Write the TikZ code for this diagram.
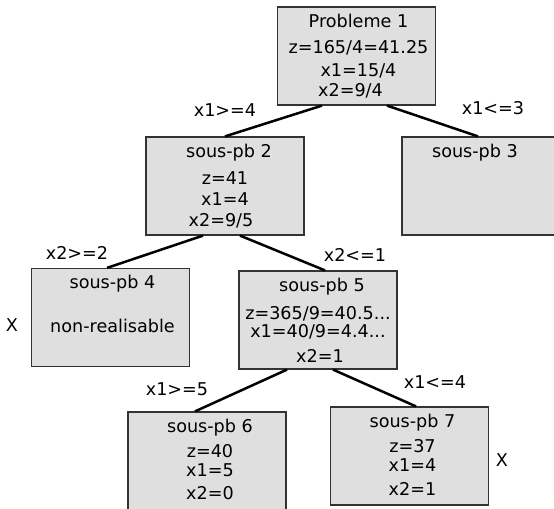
\documentclass[tikz,border=0pt]{standalone}
\usepackage{fontspec}
\setmainfont{DejaVu Sans}
\usetikzlibrary{positioning,calc}

\tikzset{
	pb/.style = {draw=black!80, line width=0.6pt, fill=gray!25, minimum width=79pt, minimum height=49pt, inner sep=0pt},
	pbtext/.style = {align=center, inner sep=0pt, anchor=north, font=\fontsize{8.8}{10}\selectfont},
	cond/.style = {inner sep=0pt, font=\fontsize{8.8}{10}\selectfont},
	branch/.style = {line width=1.25pt}
}

\begin{document}
\begin{tikzpicture}[x=0.5pt, y=-0.5pt]
		\useasboundingbox (0,0) rectangle (554,509);
		\clip (0,0) rectangle (554,509);
		
		\node[pb] (b1) at (356.5,56) {};
		\node[pb] (b2) at (225,186) {};
		\node[pb] (b3) at (481,186) {};
		\node[pb] (b4) at (110.5,317.5) {};
		\node[pb] (b5) at (318,320) {};
		\node[pb] (b6) at (207,461) {};
		\node[pb] (b7) at (409.5,456) {};
		
		\node[pbtext, below=3.5pt of b1.north, xshift=1pt] (t1) {Probleme 1\\[3pt] z=165/4=41.25\\[1.5pt] x1=15/4\\ x2=9/4\hspace*{8pt}};
		\node[pbtext, below=3.5pt of b2.north] (t2) {\hspace*{4pt}sous-pb 2\\[3.5pt] z=41\\[0.5pt] x1=4\hspace*{9pt}\\[0.5pt] x2=9/5\hspace*{4pt}};
		\node[pbtext, below=3.5pt of b3.north, xshift=-3pt] (t3) {sous-pb 3};
		\node[pbtext, below=3.5pt of b4.north, xshift=1pt] (t4) {sous-pb 4\\[12pt] non-realisable};
		\node[pbtext, below=3.5pt of b5.north] (t5) {\hspace*{4pt}sous-pb 5\\[4pt] z=365/9=40.5...\hspace*{3pt}\\[-1pt] x1=40/9=4.4...\\[2.5pt] \hspace*{2pt}x2=1};
		\node[pbtext, below=3.5pt of b6.north, xshift=1.5pt] (t6) {sous-pb 6\\[2.5pt] z=40\\[-0.5pt] x1=5\\[1.5pt] x2=0};
		\node[pbtext, below=3.5pt of b7.north, xshift=1.5pt] (t7) {sous-pb 7\\[2.5pt] z=37\\[-0.5pt] x1=4\\[2pt] x2=1};
		
		\draw[branch] ($(b1.south)+(-34.5,0)$) -- (b2.north);
		\draw[branch] ($(b1.south)+(30.5,0)$) -- ($(b3.north)+(-3,0)$);
		\draw[branch] ($(b2.south)+(-22,0)$) -- ($(b4.north)+(-3.5,0)$);
		\draw[branch] ($(b2.south)+(15,0)$) -- ($(b5.north)+(7,0)$);
		\draw[branch] ($(b5.south)+(-31,0)$) -- ($(b6.north)+(-12,0)$);
		\draw[branch] ($(b5.south)+(15,0)$) -- ($(b7.north)+(6.5,0)$);
		
		\node[cond] (c12) at (225,110) {x1>=4};
		\node[cond] (c13) at (493,108) {x1<=3};
		\node[cond] (c24) at (77,253) {x2>=2};
		\node[cond] (c25) at (355,255) {x2<=1};
		\node[cond] (c56) at (177,389) {x1>=5};
		\node[cond] (c57) at (435,382) {x1<=4};
		
		\node[cond] (x4) at (12,325) {X};
		\node[cond] (x7) at (502,460) {X};
		
	\end{tikzpicture}
\end{document}
